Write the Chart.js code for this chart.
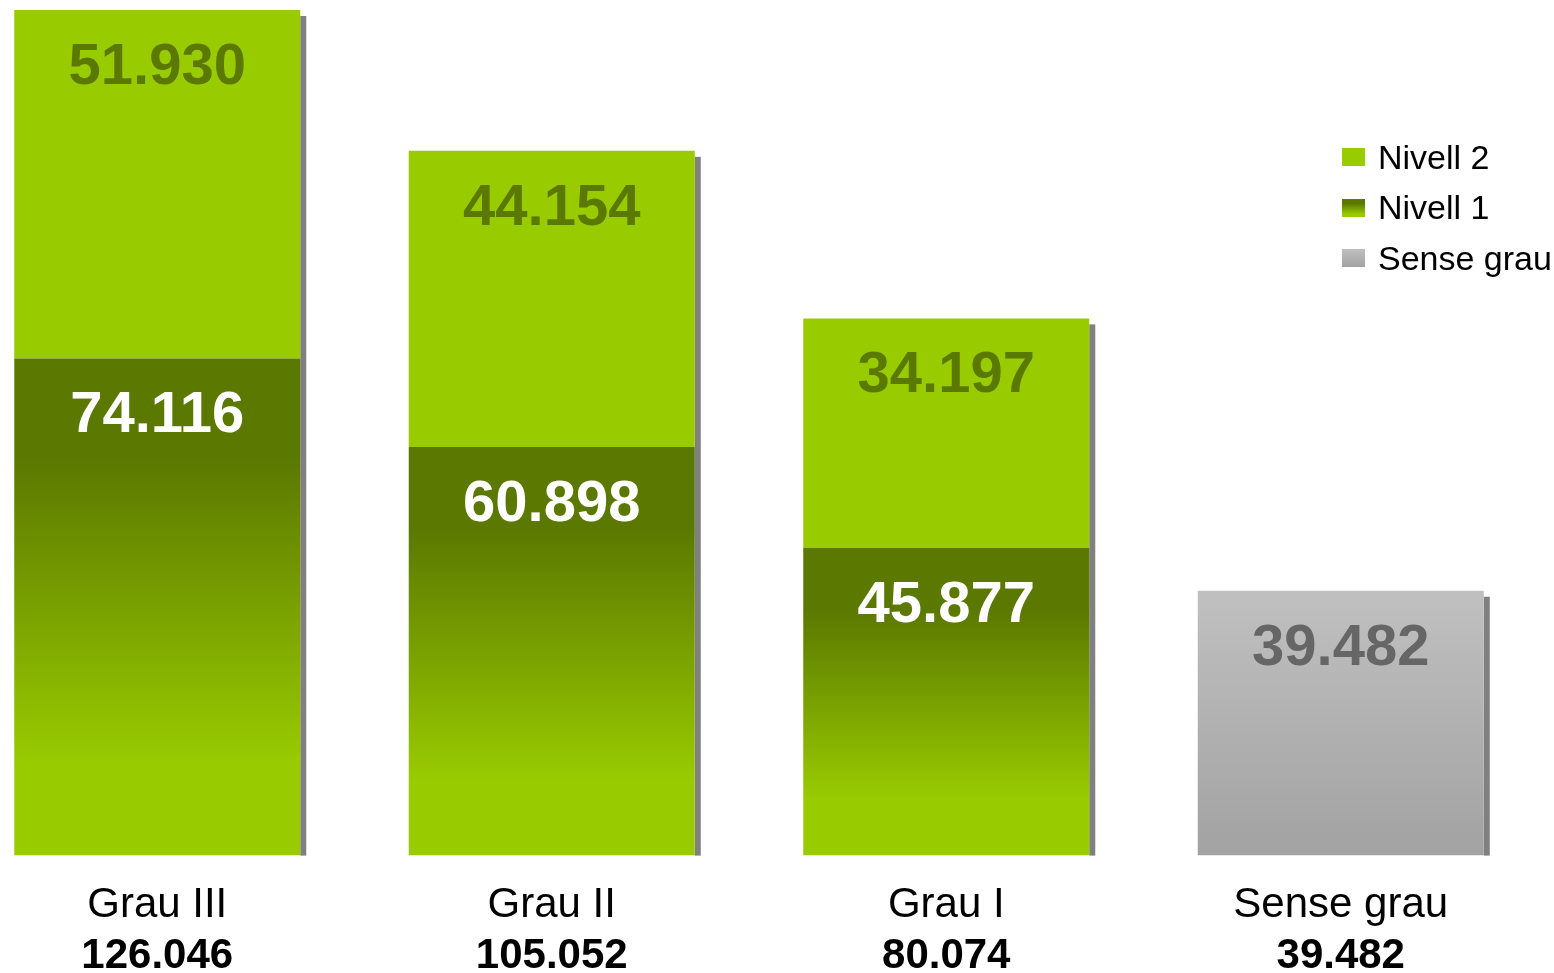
<!DOCTYPE html>
<html>
<head>
<meta charset="utf-8">
<script src="https://cdn.jsdelivr.net/npm/chart.js@4.4.1/dist/chart.umd.min.js"></script>
<style>
    html, body { margin: 0; padding: 0; background: #fff; overflow: hidden; }
    body { width: 1554px; height: 973px; position: relative; font-family: 'Liberation Sans', Arial, sans-serif; }
    #wrap { position: absolute; left: -40px; top: 0; width: 1594px; height: 973px; }
    #legend { position: absolute; left: 1342px; top: 132px; }
    .row { height: 50.5px; display: flex; align-items: center; font-size: 34px; color: #000; }
    .sw { width: 23px; height: 18px; margin-right: 13px; }
</style>
</head>
<body>
<div id="wrap"><canvas id="gradesChart"></canvas></div>
<div id="legend"></div>
<script>
// categories and values
const grades = ['Grau III', 'Grau II', 'Grau I', 'Sense grau'];
const nivell1 = [74116, 60898, 45877, null];
const nivell2 = [51930, 44154, 34197, null];
const senseGrau = [null, null, null, 39482];

const lightGreen = '#99cc00';
const darkGreen = '#5b7800';

function fmt(v) {
    return String(v).replace(/\B(?=(\d{3})+(?!\d))/g, '.');
}

const totals = grades.map((g, i) => (nivell1[i] || 0) + (nivell2[i] || 0) + (senseGrau[i] || 0));

// vertical gradient for each bar, from its top down to the baseline
function barGradient(stops) {
    return function (ctx) {
        const chart = ctx.chart;
        if (!chart.chartArea || ctx.raw == null) return stops[0][1];
        const y = chart.scales.y;
        const top = y.getPixelForValue(ctx.raw);
        const base = y.getPixelForValue(0);
        const g = chart.ctx.createLinearGradient(0, top, 0, base);
        stops.forEach(s => g.addColorStop(s[0], s[1]));
        return g;
    };
}

// grey drop shadow on the right of each column
const shadowPlugin = {
    id: 'shadow',
    beforeDatasetsDraw(chart) {
        const c = chart.ctx;
        c.save();
        c.fillStyle = '#808080';
        grades.forEach((g, i) => {
            let top = Infinity, right = null, base = null;
            chart.data.datasets.forEach((ds, d) => {
                const el = chart.getDatasetMeta(d).data[i];
                if (!el || ds.data[i] == null) return;
                const p = el.getProps(['x', 'y', 'base', 'width'], true);
                top = Math.min(top, p.y);
                right = p.x + p.width / 2;
                base = Math.max(base || 0, p.base);
            });
            if (right !== null) c.fillRect(right, top + 6, 6, base - top - 6);
        });
        c.restore();
    }
};

// value inside each segment and the total under each category
const labelPlugin = {
    id: 'labels',
    afterDatasetsDraw(chart) {
        const c = chart.ctx;
        c.save();
        c.textAlign = 'center';
        c.textBaseline = 'middle';
        c.font = 'bold 58px "Liberation Sans", Arial, sans-serif';
        chart.data.datasets.forEach((ds, d) => {
            chart.getDatasetMeta(d).data.forEach((el, i) => {
                if (ds.data[i] == null) return;
                c.fillStyle = ds.labelColor;
                c.fillText(fmt(ds.data[i]), el.x, el.y + 58);
            });
        });
        const x = chart.scales.x;
        c.fillStyle = '#000';
        c.font = 'bold 42px "Liberation Sans", Arial, sans-serif';
        totals.forEach((t, i) => {
            c.fillText(fmt(t), x.getPixelForValue(i), chart.chartArea.bottom + 101);
        });
        c.restore();
    }
};

const chart = new Chart(document.getElementById('gradesChart'), {
    type: 'bar',
    data: {
        labels: grades,
        datasets: [
            {
                label: 'Nivell 1',
                data: nivell1,
                backgroundColor: barGradient([[0, darkGreen], [0.2, darkGreen], [0.82, lightGreen], [1, lightGreen]]),
                labelColor: '#ffffff',
            },
            {
                label: 'Nivell 2',
                data: nivell2,
                backgroundColor: lightGreen,
                labelColor: '#5b7800',
            },
            {
                label: 'Sense grau',
                data: senseGrau,
                backgroundColor: barGradient([[0, '#c0c0c0'], [1, '#a2a2a2']]),
                labelColor: '#666666',
            }
        ]
    },
    options: {
        responsive: true,
        maintainAspectRatio: false,
        animation: false,
        barPercentage: 0.725,
        categoryPercentage: 1,
        layout: { padding: { top: 10, right: 16, bottom: 17, left: 0 } },
        scales: {
            x: {
                stacked: true,
                grid: { display: false, drawTicks: false },
                border: { display: false },
                ticks: {
                    color: '#000',
                    padding: 25,
                    font: { size: 42, family: "'Liberation Sans', Arial, sans-serif" }
                }
            },
            y: {
                stacked: true,
                display: false,
                min: 0,
                max: Math.max(...totals)
            }
        },
        plugins: {
            legend: { display: false },
            tooltip: { enabled: false }
        }
    },
    plugins: [shadowPlugin, labelPlugin]
});

// legend: Nivell 2, Nivell 1, Sense grau
const legendItems = [
    ['Nivell 2', lightGreen],
    ['Nivell 1', 'linear-gradient(' + darkGreen + ' 0%, ' + darkGreen + ' 25%, ' + lightGreen + ' 85%)'],
    ['Sense grau', 'linear-gradient(#c0c0c0, #a2a2a2)']
];
document.getElementById('legend').innerHTML = legendItems.map(it =>
    '<div class="row"><div class="sw" style="background:' + it[1] + '"></div>' + it[0] + '</div>'
).join('');
</script>
</body>
</html>
